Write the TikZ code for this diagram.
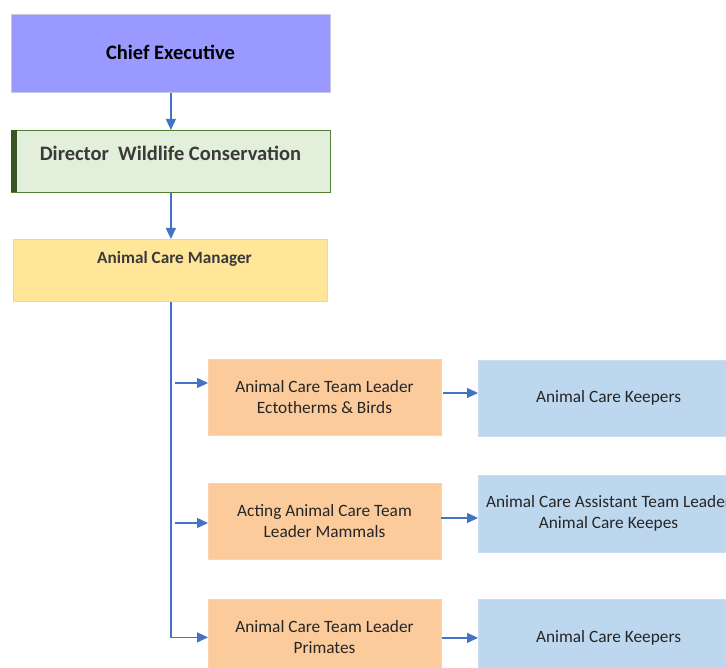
\documentclass[tikz,border=0pt]{standalone}
\usepackage{fontspec}
\setmainfont{Carlito}
\usetikzlibrary{arrows.meta}
\definecolor{chieffill}{HTML}{9999FF}
\definecolor{chiefdraw}{HTML}{C8C8E0}
\definecolor{dirfill}{HTML}{E2EFDA}
\definecolor{dirdraw}{HTML}{548235}
\definecolor{dirbar}{HTML}{375623}
\definecolor{mgrfill}{HTML}{FFE699}
\definecolor{mgrdraw}{HTML}{FFD966}
\definecolor{orfill}{HTML}{FBCB9C}
\definecolor{ordraw}{HTML}{FBD3AE}
\definecolor{blfill}{HTML}{BDD7EE}
\definecolor{bldraw}{HTML}{C9DEF2}
\definecolor{arrcol}{HTML}{4472C4}
\definecolor{txtdark}{HTML}{262626}
\definecolor{txtgray}{HTML}{3A3A3A}
\tikzset{
  box/.style={draw, line width=0.8pt, inner sep=0pt, anchor=north west},
  lbl/.style={align=center, inner sep=0pt, text=txtdark, font=\fontsize{17.3}{21}\selectfont},
  arr/.style={draw=arrcol, line width=1.3pt, -{Triangle[length=11pt,width=10pt]}},
  ln/.style={draw=arrcol, line width=1.3pt}
}
\begin{document}
\begin{tikzpicture}[x=1pt,y=-1pt]
\useasboundingbox (0,0) rectangle (726,668);
\clip (0,0) rectangle (726,668);
% top boxes
\node[box, fill=chieffill, draw=chiefdraw, minimum width=319pt, minimum height=78pt] (chief) at (11,14) {};
\node[lbl, text=black, font=\bfseries\fontsize{20.5}{24}\selectfont] (chiefT) at (170.5,52) {Chief Executive};
\node[box, fill=dirfill, draw=dirdraw, minimum width=319pt, minimum height=62pt] (dir) at (11,130) {};
\fill[dirbar] (11,130) rectangle (17,192);
\node[lbl, text=txtgray, font=\bfseries\fontsize{20.5}{24}\selectfont] (dirT) at (170.5,153) {Director\ \ Wildlife Conservation};
\node[box, fill=mgrfill, draw=mgrdraw, minimum width=314pt, minimum height=62pt] (mgr) at (13,239) {};
\node[lbl, text=txtgray, font=\bfseries\fontsize{17.2}{21}\selectfont] (mgrT) at (174.5,259) {Animal Care Manager};
% orange boxes
\node[box, fill=orfill, draw=ordraw, minimum width=233pt, minimum height=76pt] (o1) at (208,359) {};
\node[lbl] (o1T) at (324.5,397) {Animal Care Team Leader\\Ectotherms \& Birds};
\node[box, fill=orfill, draw=ordraw, minimum width=233pt, minimum height=76pt] (o2) at (208,483) {};
\node[lbl] (o2T) at (324.5,521) {Acting Animal Care Team\\Leader Mammals};
\node[box, fill=orfill, draw=ordraw, minimum width=233pt, minimum height=76pt] (o3) at (208,599) {};
\node[lbl] (o3T) at (324.5,637) {Animal Care Team Leader\\Primates};
% blue boxes
\node[box, fill=blfill, draw=bldraw, minimum width=262pt, minimum height=76pt] (b1) at (478,360) {};
\node[lbl] (b1T) at (608.5,398) {Animal Care Keepers};
\node[box, fill=blfill, draw=bldraw, minimum width=262pt, minimum height=77pt] (b2) at (478,475) {};
\node[lbl] (b2T) at (608.5,513) {Animal Care Assistant Team Leader\\Animal Care Keepes};
\node[box, fill=blfill, draw=bldraw, minimum width=262pt, minimum height=77pt] (b3) at (478,599) {};
\node[lbl] (b3T) at (608.5,638) {Animal Care Keepers};
% connectors
\draw[arr] (chief.south) -- (dir.north);
\draw[arr] (dir.south) -- (mgr.north -| dir.south);
\draw[arr] (mgr.south -| dir.south) |- (o3.west);
\coordinate (s1) at (175,383);
\coordinate (s2) at (175,523);
\draw[arr] (s1) -- (s1 -| o1.west);
\draw[arr] (s2) -- (s2 -| o2.west);
\coordinate (r1) at (443,393);
\coordinate (r2) at (441,518);
\draw[arr] (r1) -- (r1 -| b1.west);
\draw[arr] (r2) -- (r2 -| b2.west);
\draw[arr] (o3.east |- b3.west) -- (b3.west);
\end{tikzpicture}
\end{document}
